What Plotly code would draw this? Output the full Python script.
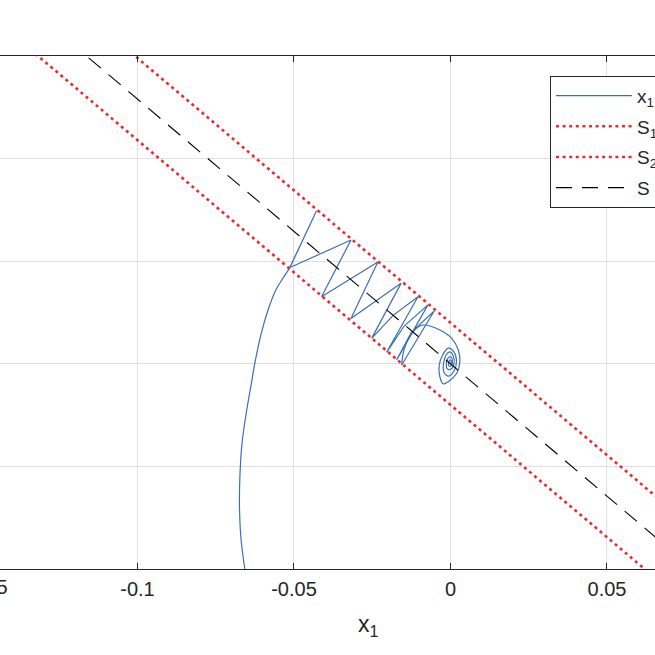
import plotly.graph_objects as go

# ---------------- data ----------------
# state trajectory (x1, x2): reaching phase, chattering phase, final spiral
reach_x1 = [-0.0657, -0.0669, -0.0674, -0.0673, -0.0666, -0.0651, -0.0637, -0.0625,
            -0.0606, -0.0583, -0.0558, -0.0535, -0.0515]
reach_x2 = [-0.1000, -0.0859, -0.0712, -0.0557, -0.0386, -0.0225, -0.0103, 0.0004,
            0.0140, 0.0262, 0.0360, 0.0418, 0.0464]

chat_x1 = [-0.0515, -0.0428, -0.0513, -0.0318, -0.0412, -0.0232, -0.0318, -0.0158,
           -0.0252, -0.0184, -0.0104, -0.0204, -0.0148, -0.0072, -0.0172, -0.0125,
           -0.0052, -0.0156]
chat_x2 = [0.0464, 0.0746, 0.0469, 0.0603, 0.0327, 0.0496, 0.0221, 0.0392,
           0.0124, 0.0235, 0.0327, 0.0056, 0.0184, 0.0287, 0.0019, 0.0153,
           0.0257, -0.0006]

spiral_x1 = [-0.0156, -0.0149, -0.0129, -0.0107, -0.0087, -0.0034, 0.0004, 0.0025,
             0.0030, 0.0020, -0.0007, -0.0023, -0.0034, -0.0036, -0.0025, -0.0007,
             0.0011, 0.0019, 0.0011, -0.0006, -0.0021, -0.0022, -0.0014, -0.0002,
             0.0010, 0.0011, 0.0002, -0.0010, -0.0013, -0.0008, 0.0002,
             0.0006, 0.0003, -0.0005, -0.0006, -0.0002, 0.0003, 0.0000]
spiral_x2 = [-0.0006, 0.0067, 0.0136, 0.0175, 0.0189, 0.0165, 0.0124, 0.0067,
             0.0010, -0.0046, -0.0087, -0.0098, -0.0063, -0.0006, 0.0043, 0.0076,
             0.0058, 0.0009, -0.0035, -0.0060, -0.0040, 0.0004, 0.0043, 0.0058,
             0.0033, -0.0001, -0.0025, -0.0025, 0.0004, 0.0028, 0.0033,
             0.0014, -0.0008, -0.0011, 0.0006, 0.0019, 0.0011, 0.0000]

# sliding surface S and boundary layer S1 / S2  (x2 = -1.29 x1 + offset)
line_x1 = [-0.16, 0.08]
s_x2 = [0.2064, -0.1032]
s1_x2 = [0.2264, -0.0832]
s2_x2 = [0.1864, -0.1232]

x_tick_vals = [-0.15, -0.1, -0.05, 0, 0.05]
x_tick_text = ["-0.15", "-0.1", "-0.05", "0", "0.05"]
x_range = [-0.14393, 0.06534]
y_range = [-0.1, 0.15]
y_dtick = 0.05

legend_names = ["x<sub>1</sub>", "S<sub>1</sub>", "S<sub>2</sub>", "S"]
x_label = "x<sub>1</sub>"

# ---------------- figure ----------------
AX = "#262626"
FONT = "Liberation Sans, Arial, Helvetica, sans-serif"
BLUE = "#3a6fb6"
RED = "#f0282d"

fig = go.Figure()
fig.add_trace(go.Scatter(x=reach_x1, y=reach_x2, mode="lines", name=legend_names[0],
                         legendgroup="traj", line=dict(color=BLUE, width=1.2, shape="spline")))
fig.add_trace(go.Scatter(x=chat_x1, y=chat_x2, mode="lines", name=legend_names[0],
                         legendgroup="traj", showlegend=False,
                         line=dict(color=BLUE, width=1.2)))
fig.add_trace(go.Scatter(x=spiral_x1, y=spiral_x2, mode="lines", name=legend_names[0],
                         legendgroup="traj", showlegend=False,
                         line=dict(color=BLUE, width=1.2, shape="spline", smoothing=1.0)))
fig.add_trace(go.Scatter(x=line_x1, y=s1_x2, mode="lines", name=legend_names[1],
                         legendgroup="s1",
                         line=dict(color=RED, width=2.6, dash="3px,3.6px")))
fig.add_trace(go.Scatter(x=line_x1, y=s2_x2, mode="lines", name=legend_names[2],
                         legendgroup="s2",
                         line=dict(color=RED, width=2.6, dash="3px,3.6px")))
fig.add_trace(go.Scatter(x=line_x1, y=s_x2, mode="lines", name=legend_names[3],
                         legendgroup="s",
                         line=dict(color="#000000", width=1.1, dash="16px,10px")))

vis_ticks = [v for v in x_tick_vals if x_range[0] <= v <= x_range[1]]
vis_text = [t for v, t in zip(x_tick_vals, x_tick_text) if x_range[0] <= v <= x_range[1]]

fig.update_layout(
    width=655, height=655,
    margin=dict(l=0, r=0, t=56, b=86, autoexpand=False),
    paper_bgcolor="white", plot_bgcolor="white",
    font=dict(family=FONT, color=AX, size=20),
    showlegend=True,
    legend=dict(x=550 / 655, y=0.9616, xanchor="left", yanchor="top",
                bgcolor="white", bordercolor=AX, borderwidth=1,
                font=dict(size=19, family=FONT, color=AX), itemwidth=76,
                tracegroupgap=3),
    xaxis=dict(range=x_range, tickvals=vis_ticks, ticktext=vis_text,
               showgrid=True, gridcolor="#e0e0e0", gridwidth=1, zeroline=False,
               showline=True, linecolor=AX, linewidth=1.2, mirror="ticks",
               ticks="inside", ticklen=6, tickcolor=AX, tickwidth=1.2,
               ticklabelstandoff=2, tickfont=dict(size=20, family=FONT, color=AX)),
    yaxis=dict(range=y_range, dtick=y_dtick, showgrid=True, gridcolor="#e0e0e0",
               gridwidth=1, zeroline=False, showticklabels=False, showline=False,
               ticks=""),
)

# partially visible tick label of the off-canvas tick
x0 = x_tick_vals[0]
fig.add_annotation(x=(x0 - x_range[0]) / (x_range[1] - x_range[0]), y=0,
                   xref="paper", yref="paper", text=x_tick_text[0], showarrow=False,
                   xanchor="center", yanchor="top", yshift=-5, xshift=4,
                   font=dict(size=20, family=FONT, color=AX))

# x-axis label, centred on the (wider than the canvas) axes box
fig.add_annotation(x=368 / 655, y=-0.078, xref="paper", yref="paper", text=x_label,
                   showarrow=False, xanchor="center", yanchor="top",
                   font=dict(size=23, family=FONT, color=AX))

fig.write_html("out.html", config={"displayModeBar": False},
               post_script="document.body.style.margin='0';document.body.style.overflow='hidden';")
